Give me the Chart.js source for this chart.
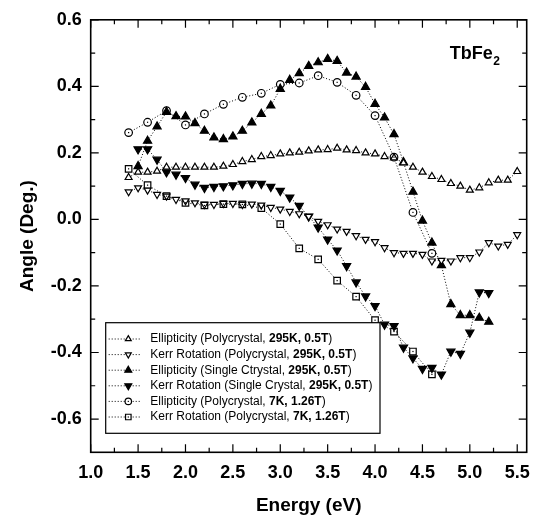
<!DOCTYPE html>
<html>
<head>
<meta charset="utf-8">
<script src="https://cdn.jsdelivr.net/npm/chart.js@4/dist/chart.umd.min.js"></script>
<style>
html,body{margin:0;padding:0;background:#fff;}
#wrap{width:540px;height:520px;}
</style>
</head>
<body>
<div id="wrap"><canvas id="c" width="540" height="520"></canvas></div>
<script>
// ---------- data ----------
const energyPoly295 = [1.4,1.5,1.6,1.7,1.8,1.9,2.0,2.1,2.2,2.3,2.4,2.5,2.6,2.7,2.8,2.9,3.0,3.1,3.2,3.3,3.4,3.5,3.6,3.7,3.8,3.9,4.0,4.1,4.2,4.3,4.4,4.5,4.6,4.7,4.8,4.9,5.0,5.1,5.2,5.3,5.4,5.5];
const ellipPoly295 = [0.126,0.142,0.142,0.145,0.157,0.157,0.157,0.157,0.157,0.157,0.160,0.165,0.174,0.180,0.189,0.192,0.197,0.200,0.202,0.206,0.209,0.210,0.214,0.209,0.207,0.200,0.197,0.189,0.185,0.170,0.157,0.142,0.129,0.120,0.108,0.100,0.088,0.095,0.110,0.118,0.118,0.144];
const kerrPoly295 = [0.083,0.095,0.088,0.075,0.070,0.060,0.056,0.050,0.045,0.045,0.048,0.048,0.045,0.046,0.043,0.036,0.031,0.024,0.017,0.009,-0.006,-0.016,-0.029,-0.036,-0.049,-0.060,-0.067,-0.085,-0.100,-0.102,-0.102,-0.105,-0.125,-0.123,-0.125,-0.115,-0.115,-0.098,-0.070,-0.080,-0.075,-0.046];

const energySingle = [1.5,1.6,1.7,1.8,1.9,2.0,2.1,2.2,2.3,2.4,2.5,2.6,2.7,2.8,2.9,3.0,3.1,3.2,3.3,3.4,3.5,3.6,3.7,3.8,3.9,4.0,4.1,4.2,4.3,4.4,4.5,4.6,4.7,4.8,4.9,5.0,5.1,5.2];
const ellipSingle = [0.160,0.236,0.279,0.323,0.310,0.309,0.289,0.266,0.246,0.241,0.249,0.266,0.291,0.317,0.342,0.392,0.419,0.439,0.461,0.472,0.482,0.476,0.441,0.429,0.398,0.347,0.306,0.256,0.172,0.083,-0.004,-0.070,-0.138,-0.255,-0.288,-0.288,-0.296,-0.308];
const kerrSingle = [0.211,0.211,0.180,0.142,0.135,0.125,0.105,0.095,0.098,0.100,0.103,0.107,0.108,0.107,0.098,0.086,0.066,0.041,0.009,-0.024,-0.060,-0.093,-0.140,-0.189,-0.231,-0.260,-0.316,-0.320,-0.385,-0.417,-0.449,-0.446,-0.466,-0.397,-0.404,-0.340,-0.219,-0.221];

const energyPoly7K = [1.4,1.6,1.8,2.0,2.2,2.4,2.6,2.8,3.0,3.2,3.4,3.6,3.8,4.0,4.2,4.4,4.6];
const ellipPoly7K = [0.261,0.292,0.327,0.284,0.317,0.346,0.367,0.379,0.406,0.410,0.432,0.412,0.373,0.312,0.187,0.021,-0.102];
const kerrPoly7K = [0.152,0.103,0.070,0.050,0.042,0.046,0.045,0.034,-0.014,-0.087,-0.120,-0.184,-0.232,-0.303,-0.337,-0.397,-0.466];

const seriesQuantity = ["Ellipticity","Kerr Rotation","Ellipticity","Kerr Rotation","Ellipticity","Kerr Rotation"];
const seriesSample = ["Polycrystal","Polycrystal","Single Ctrystal","Single Crystal","Polycrystal","Polycrystal"];
const seriesCondition = ["295K, 0.5T","295K, 0.5T","295K, 0.5T","295K, 0.5T","7K, 1.26T","7K, 1.26T"];

const xTickLabels = [1.0,1.5,2.0,2.5,3.0,3.5,4.0,4.5,5.0,5.5];
const xMinorTicks = [1.25,1.75,2.25,2.75,3.25,3.75,4.25,4.75,5.25];
const yTickLabels = [0.6,0.4,0.2,0.0,-0.2,-0.4,-0.6];
const yMinorTicks = [0.5,0.3,0.1,-0.1,-0.3,-0.5];

const xTitle = "Energy (eV)";
const yTitle = "Angle (Deg.)";
const compoundMain = "TbFe";
const compoundSub = "2";

// ---------- chart ----------
const FONT = '"Liberation Sans", Arial, Helvetica, sans-serif';

function markerPath(ctx, style, x, y, r, rot){
  ctx.beginPath();
  if (style === 'circle') {
    ctx.arc(x, y, r, 0, Math.PI * 2);
  } else if (style === 'rect') {
    const s = r * Math.SQRT1_2;
    ctx.rect(x - s, y - s, 2 * s, 2 * s);
  } else {
    let a = rot * Math.PI / 180;
    for (let k = 0; k < 3; k++) {
      const px = x + Math.sin(a) * r, py = y - Math.cos(a) * r;
      if (k === 0) ctx.moveTo(px, py); else ctx.lineTo(px, py);
      a += 2 * Math.PI / 3;
    }
    ctx.closePath();
  }
}

function drawMarker(ctx, style, x, y, r, filled, rot, dot){
  ctx.save();
  markerPath(ctx, style, x, y, r, rot);
  ctx.fillStyle = filled ? '#000' : '#fff';
  ctx.fill();
  ctx.lineWidth = 1.2;
  ctx.strokeStyle = '#000';
  ctx.stroke();
  if (dot) { ctx.fillStyle = '#000'; ctx.fillRect(x - 0.6, y - 0.6, 1.2, 1.2); }
  ctx.restore();
}

function makeSet(i, xs, ys, style, filled, rot, r, dot){
  return {
    label: seriesQuantity[i] + " (" + seriesSample[i] + ", " + seriesCondition[i] + ")",
    data: xs.map((x, k) => ({x: x, y: ys[k]})),
    showLine: true,
    borderColor: '#000',
    borderWidth: 1,
    borderDash: [1, 2],
    fill: false,
    tension: 0,
    pointStyle: style,
    pointRotation: rot,
    pointRadius: r,
    pointHoverRadius: r,
    pointBackgroundColor: filled ? '#000' : '#fff',
    pointBorderColor: '#000',
    pointBorderWidth: 1.2,
    _filled: filled,
    _dot: dot
  };
}

const datasets = [
  makeSet(0, energyPoly295, ellipPoly295, 'triangle', false, 0, 4.0, false),
  makeSet(1, energyPoly295, kerrPoly295, 'triangle', false, 180, 4.0, false),
  makeSet(2, energySingle, ellipSingle, 'triangle', true, 0, 4.7, false),
  makeSet(3, energySingle, kerrSingle, 'triangle', true, 180, 4.7, false),
  makeSet(4, energyPoly7K, ellipPoly7K, 'circle', false, 0, 3.8, true),
  makeSet(5, energyPoly7K, kerrPoly7K, 'rect', false, 0, 4.6, true)
];

const decor = {
  id: 'decor',
  beforeDatasetsDraw(chart){
    const ctx = chart.ctx, a = chart.chartArea;
    const xs = chart.scales.x, ys = chart.scales.y;
    ctx.save();
    ctx.strokeStyle = '#000';
    ctx.lineWidth = 1.2;
    ctx.beginPath();
    const tick = (x1, y1, x2, y2) => { ctx.moveTo(x1, y1); ctx.lineTo(x2, y2); };
    xTickLabels.forEach(v => { const p = xs.getPixelForValue(v); tick(p, a.bottom, p, a.bottom - 8); tick(p, a.top, p, a.top + 8); });
    xMinorTicks.forEach(v => { const p = xs.getPixelForValue(v); tick(p, a.bottom, p, a.bottom - 4.5); tick(p, a.top, p, a.top + 4.5); });
    yTickLabels.forEach(v => { const p = ys.getPixelForValue(v); tick(a.left, p, a.left + 8, p); tick(a.right, p, a.right - 8, p); });
    yMinorTicks.forEach(v => { const p = ys.getPixelForValue(v); tick(a.left, p, a.left + 4.5, p); tick(a.right, p, a.right - 4.5, p); });
    ctx.stroke();
    ctx.lineWidth = 1.6;
    ctx.strokeRect(a.left, a.top, a.right - a.left, a.bottom - a.top);
    ctx.restore();
  },
  afterDatasetsDraw(chart){
    // small centre dots inside the open circle / square markers
    const ctx = chart.ctx;
    ctx.save();
    ctx.fillStyle = '#000';
    chart.data.datasets.forEach((d, i) => {
      if (!d._dot) return;
      chart.getDatasetMeta(i).data.forEach(pt => { ctx.fillRect(pt.x - 0.6, pt.y - 0.6, 1.2, 1.2); });
    });
    ctx.restore();
  },
  afterDraw(chart){
    const ctx = chart.ctx, a = chart.chartArea;
    ctx.save();
    // compound label
    ctx.fillStyle = '#000';
    ctx.textBaseline = 'alphabetic';
    ctx.textAlign = 'left';
    ctx.font = 'bold 18px ' + FONT;
    const tx = a.right - 77, ty = a.top + 38.8;
    ctx.fillText(compoundMain, tx, ty);
    const w = ctx.measureText(compoundMain).width;
    ctx.font = 'bold 12px ' + FONT;
    ctx.fillText(compoundSub, tx + w + 0.5, ty + 6);

    // legend box
    const bl = a.left + 15, br = 380, bb = a.bottom - 19, bt = bb - 110.6;
    ctx.fillStyle = '#fff';
    ctx.fillRect(bl, bt, br - bl, bb - bt);
    ctx.lineWidth = 1.2;
    ctx.strokeStyle = '#000';
    ctx.strokeRect(bl, bt, br - bl, bb - bt);
    chart.data.datasets.forEach((d, i) => {
      const cy = bt + 16.3 + i * 15.6;
      const sx = bl + 22.6;
      ctx.save();
      ctx.setLineDash([1, 2]);
      ctx.lineWidth = 1;
      ctx.strokeStyle = '#000';
      ctx.beginPath();
      ctx.moveTo(bl + 3, cy); ctx.lineTo(bl + 34, cy);
      ctx.stroke();
      ctx.restore();
      drawMarker(ctx, d.pointStyle, sx, cy, d.pointRadius * 0.85, d._filled, d.pointRotation, d._dot);
      let x = bl + 44.6;
      ctx.fillStyle = '#000';
      ctx.textBaseline = 'middle';
      const p1 = seriesQuantity[i] + " (" + seriesSample[i] + ", ";
      ctx.font = '12px ' + FONT;
      ctx.fillText(p1, x, cy); x += ctx.measureText(p1).width;
      ctx.font = 'bold 12px ' + FONT;
      ctx.fillText(seriesCondition[i], x, cy); x += ctx.measureText(seriesCondition[i]).width;
      ctx.font = '12px ' + FONT;
      ctx.fillText(")", x, cy);
    });
    ctx.restore();
  }
};

new Chart(document.getElementById('c'), {
  type: 'scatter',
  data: { datasets: datasets },
  options: {
    responsive: false,
    animation: false,
    devicePixelRatio: 1,
    events: [],
    layout: { padding: { top: 14.7, right: 12.3, left: 0, bottom: 0 } },
    plugins: { legend: { display: false }, tooltip: { enabled: false } },
    scales: {
      x: {
        type: 'linear', min: 1.0, max: 5.6,
        afterBuildTicks: s => { s.ticks = xTickLabels.map(v => ({ value: v })); },
        afterFit: s => { s.height = 67.7; },
        grid: { display: false, drawTicks: false },
        border: { display: false },
        ticks: { color: '#000', padding: 10, autoSkip: false, maxRotation: 0,
                 font: { family: FONT, size: 18, weight: 'bold' },
                 callback: v => Number(v).toFixed(1) },
        title: { display: true, text: xTitle, color: '#000',
                 font: { family: FONT, size: 19, weight: 'bold' },
                 padding: { top: 0, bottom: 3 } }
      },
      y: {
        type: 'linear', min: -0.7, max: 0.6,
        afterBuildTicks: s => { s.ticks = yTickLabels.map(v => ({ value: v })); },
        afterFit: s => { s.width = 90.7; },
        grid: { display: false, drawTicks: false },
        border: { display: false },
        ticks: { color: '#000', padding: 9, autoSkip: false,
                 font: { family: FONT, size: 18, weight: 'bold' },
                 callback: v => Number(v).toFixed(1) },
        title: { display: true, text: yTitle, color: '#000',
                 font: { family: FONT, size: 19, weight: 'bold' },
                 padding: { top: 16, bottom: 0 } }
      }
    }
  },
  plugins: [decor]
});
</script>
</body>
</html>
